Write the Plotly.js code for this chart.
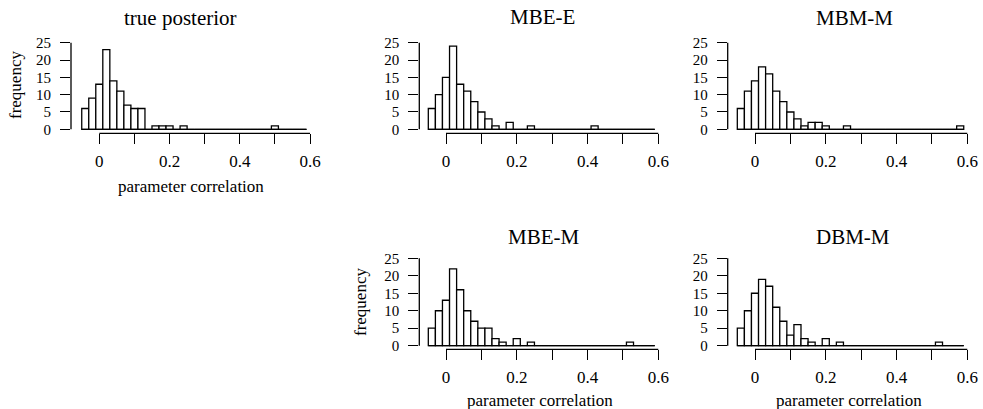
<!DOCTYPE html>
<html>
<head>
<meta charset="utf-8">
<script src="https://cdn.plot.ly/plotly-3.0.1.min.js"></script>
<style>html,body{margin:0;padding:0;background:#fff;}#chart{width:983px;height:409px;}</style>
</head>
<body>
<div id="chart"></div>
<script>
// ---- data ----
var binCenters = [-0.04,-0.02,0.00,0.02,0.04,0.06,0.08,0.10,0.12,0.14,0.16,0.18,0.20,0.22,0.24,0.26,
                  0.28,0.30,0.32,0.34,0.36,0.38,0.40,0.42,0.44,0.46,0.48,0.50,0.52,0.54,0.56,0.58];
var binWidth = 0.02;
var panelTitles = ["true posterior","MBE-E","MBM-M","MBE-M","DBM-M"];
var countsTrue = [6,9,13,23,14,11,7,6,6,0,1,1,1,0,1,0, 0,0,0,0,0,0,0,0,0,0,0,1,0,0,0,0];
var countsMBEE = [6,10,15,24,13,11,8,5,3,1,0,2,0,0,1,0, 0,0,0,0,0,0,0,1,0,0,0,0,0,0,0,0];
var countsMBMM = [6,11,14,18,16,11,8,5,3,1,2,2,1,0,0,1, 0,0,0,0,0,0,0,0,0,0,0,0,0,0,0,1];
var countsMBEM = [5,10,13,22,16,10,7,5,5,2,1,0,2,0,1,0, 0,0,0,0,0,0,0,0,0,0,0,0,1,0,0,0];
var countsDBMM = [5,10,15,19,17,11,7,3,6,2,1,0,2,0,1,0, 0,0,0,0,0,0,0,0,0,0,0,0,1,0,0,0];
var xTickVals = [0,0.1,0.2,0.3,0.4,0.5,0.6];
var xTickText = ["0","","0.2","","0.4","","0.6"];
var yTickVals = [0,5,10,15,20,25];
var yTickText = ["0","5","10","15","20","25"];
var xLabel = "parameter correlation";
var yLabel = "frequency";

var allCounts = [countsTrue,countsMBEE,countsMBMM,countsMBEM,countsDBMM];

// ---- layout geometry (pixels) ----
var W = 983, H = 409;
function fx(px){ return px / W; }
function fy(py){ return 1 - py / H; }
var rows = [
  {y0px:129.3, ys:3.464, axisPx:133.3, topPx:38},
  {y0px:345.7, ys:3.496, axisPx:349.3, topPx:254}
];
var panels = [
  {x0px:99.3, s:351.2, yAxisPx:71.0,  row:0, title:[180.7,18], xlab:[190.8,186], ylab:[15,85]},
  {x0px:446.0, s:353.8, yAxisPx:419.3, row:0, title:[542.8,17.5], xlab:null, ylab:null},
  {x0px:755.0, s:353.8, yAxisPx:727.7, row:0, title:[854.3,18], xlab:null, ylab:null},
  {x0px:446.0, s:353.8, yAxisPx:419.3, row:1, title:[543.8,236.7], xlab:[540,400], ylab:[360,302]},
  {x0px:755.0, s:353.8, yAxisPx:727.7, row:1, title:[852.7,236.7], xlab:[849.2,400], ylab:null}
];

var FONT = '"Liberation Serif", "Times New Roman", serif';
var traces = [];
var layout = {
  width: W, height: H,
  margin: {l:0, r:0, t:0, b:0},
  paper_bgcolor: "#fff", plot_bgcolor: "rgba(0,0,0,0)",
  showlegend: false,
  font: {family: FONT, color: "#000"},
  shapes: [], annotations: []
};

panels.forEach(function(p, i){
  var n = i + 1;
  var xa = "x" + (n === 1 ? "" : n), ya = "y" + (n === 1 ? "" : n);
  var xkey = "xaxis" + (n === 1 ? "" : n), ykey = "yaxis" + (n === 1 ? "" : n);
  var r = rows[p.row];
  var xRight = 0.62;
  var xLeft = (p.yAxisPx - p.x0px) / p.s;
  var domRightPx = p.x0px + xRight * p.s;
  var yBottom = -(r.axisPx - r.y0px) / r.ys;
  var yTop = (r.y0px - r.topPx) / r.ys;

  layout[xkey] = {
    domain: [fx(p.yAxisPx), fx(domRightPx)],
    range: [xLeft, xRight], anchor: ya,
    showgrid:false, zeroline:false, showline:false,
    ticks:"outside", ticklen:10, tickwidth:1, tickcolor:"#000",
    tickmode:"array", tickvals:xTickVals, ticktext:xTickText,
    tickfont:{family:FONT, size:17, color:"#000"}, ticklabelstandoff: 2,
    fixedrange:true
  };
  layout[ykey] = {
    domain: [fy(r.axisPx), fy(r.topPx)],
    range: [yBottom, yTop], anchor: xa,
    showgrid:false, zeroline:false, showline:false,
    ticks:"outside", ticklen:10, tickwidth:1, tickcolor:"#000",
    tickmode:"array", tickvals:yTickVals, ticktext:yTickText,
    tickfont:{family:FONT, size:15, color:"#000"}, ticklabelstandoff: 6,
    fixedrange:true
  };

  var counts = allCounts[i];
  traces.push({
    type:"scatter", mode:"lines", xaxis:xa, yaxis:ya,
    x:[binCenters[0]-binWidth/2, binCenters[binCenters.length-1]+binWidth/2],
    y:[0,0], line:{color:"#000", width:1.3}, hoverinfo:"skip"
  });
  traces.push({
    type:"bar", xaxis:xa, yaxis:ya,
    x:binCenters, y:counts, width:binWidth,
    marker:{color:"#fff", line:{color:"#000", width:1.3}}
  });

  layout.shapes.push({type:"line", xref:xa, yref:ya+" domain",
    x0:xTickVals[0], x1:xTickVals[xTickVals.length-1], y0:0, y1:0,
    line:{color:"#000", width:1.3}});
  layout.shapes.push({type:"line", xref:xa+" domain", yref:ya,
    x0:0, x1:0, y0:yTickVals[0], y1:yTickVals[yTickVals.length-1],
    line:{color:"#000", width:1.3}});

  layout.annotations.push({text:panelTitles[i], xref:"paper", yref:"paper",
    x:fx(p.title[0]), y:fy(p.title[1]), xanchor:"center", yanchor:"middle",
    showarrow:false, font:{family:FONT, size:21, color:"#000"}});
  if (p.xlab) layout.annotations.push({text:xLabel, xref:"paper", yref:"paper",
    x:fx(p.xlab[0]), y:fy(p.xlab[1]), xanchor:"center", yanchor:"middle",
    showarrow:false, borderpad:0, font:{family:FONT, size:17, color:"#000"}});
  if (p.ylab) layout.annotations.push({text:yLabel, xref:"paper", yref:"paper",
    x:fx(p.ylab[0]), y:fy(p.ylab[1]), xanchor:"center", yanchor:"middle", textangle:-90,
    showarrow:false, font:{family:FONT, size:17, color:"#000"}});
});

Plotly.newPlot("chart", traces, layout, {staticPlot:true, displayModeBar:false});
</script>
</body>
</html>
